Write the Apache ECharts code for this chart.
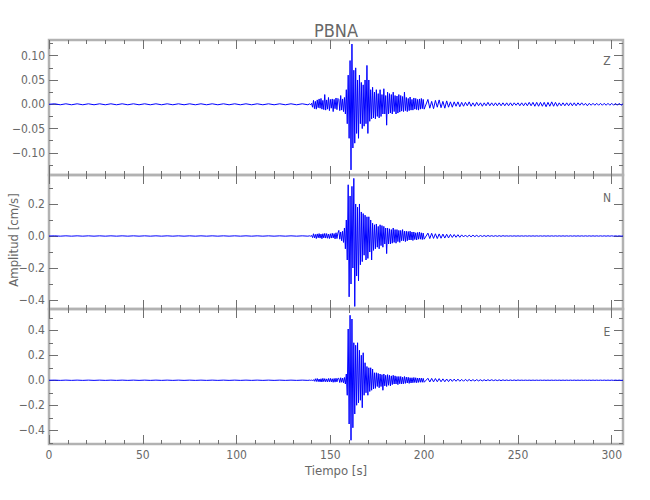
<!DOCTYPE html>
<html><head><meta charset="utf-8">
<script src="https://cdn.jsdelivr.net/npm/echarts@6/dist/echarts.min.js"></script>
<style>html,body{margin:0;padding:0;background:#fff}#chart{width:650px;height:500px}</style>
</head><body><div id="chart"></div>
<script>
// ---- text ----
const chartTitle = 'PBNA';
const xTitle = 'Tiempo [s]';
const yTitle = 'Amplitud [cm/s]';
const componentNames = ['Z', 'N', 'E'];

// ---- axes ----
const timeRange = [0, 306];
const xMajorTicks = [0, 50, 100, 150, 200, 250, 300];
const xMinorTicks = [10, 20, 30, 40, 60, 70, 80, 90, 110, 120, 130, 140, 160, 170, 180, 190, 210, 220, 230, 240, 260, 270, 280, 290];
const zRange = [-0.1455, 0.1323];
const zMajorTicks = [-0.10, -0.05, 0, 0.05, 0.10];
const zMinorTicks = [-0.125, -0.075, -0.025, 0.025, 0.075, 0.125];
const nRange = [-0.456, 0.381];
const nMajorTicks = [-0.4, -0.2, 0, 0.2];
const nMinorTicks = [-0.3, -0.1, 0.1, 0.3];
const eRange = [-0.51, 0.57];
const eMajorTicks = [-0.4, -0.2, 0, 0.2, 0.4];
const eMinorTicks = [-0.5, -0.3, -0.1, 0.1, 0.3, 0.5];

// ---- time spans of the sample segments [start, end] (s) ----
const segmentSpans = [[0, 138], [139, 154], [154.5, 200], [202, 306]];

// ---- Z component (cm/s) ----
const zQuiet = [0.000,0.001,-0.001,0.001,-0.001,0.001,-0.001,0.001,-0.001,0.001,-0.001,0.001,-0.001,0.001,-0.001,0.001,-0.001,0.001,-0.001,0.001,-0.001,0.001,-0.001,0.001,-0.001,0.001,-0.001,0.001,-0.001,0.001,-0.001,0.001,-0.001,0.001,-0.001,0.001,-0.001,0.001,-0.001,0.001,-0.001,0.001,-0.001,0.001,-0.001,0.001,-0.001];
const zOnset = [0.001,-0.001,0.002,-0.006,0.008,-0.009,0.006,-0.010,0.009,-0.007,
  0.011,-0.008,0.012,-0.010,0.008,-0.011,0.020,-0.012,0.009,-0.010,
  0.014,-0.013,0.010,-0.008,0.011,-0.015,0.010,-0.009,0.013,-0.011,0.012];
const zMain = [0.010,-0.013,0.018,-0.012,0.011,-0.015,0.014,-0.020,0.030,-0.040,
  0.060,-0.070,0.090,-0.135,0.124,-0.090,0.070,-0.080,0.075,-0.060,
  0.050,-0.070,0.060,-0.040,0.045,-0.050,0.040,-0.045,0.050,-0.040,
  0.080,-0.060,0.050,-0.035,0.030,-0.030,0.035,-0.028,0.025,-0.030,
  0.030,-0.025,0.022,-0.028,0.030,-0.025,0.020,-0.020,0.032,-0.020,
  0.018,-0.043,0.025,-0.020,0.022,-0.018,0.020,-0.020,0.025,-0.015,
  0.018,-0.020,0.017,-0.018,0.020,-0.016,0.018,-0.014,0.016,-0.015,
  0.025,-0.013,0.014,-0.015,0.012,-0.013,0.015,-0.012,0.010,-0.012,
  0.013,-0.010,0.012,-0.011,0.010,-0.012,0.011,-0.010,0.012,-0.009,
  0.010,-0.010];
const zCoda = [0.010,-0.008,0.006,-0.009,0.008,-0.006,0.009,-0.007,0.006,-0.008,
  0.007,-0.006,0.005,-0.006,0.005,-0.004,0.005,-0.005,0.004,-0.004,
  0.004,-0.003,0.005,-0.004,0.003,-0.004,0.004,-0.003,0.003,-0.004,
  0.003,-0.003,0.004,-0.003,0.003,-0.003,0.003,-0.003,0.003,-0.003,
  0.003,-0.003,0.003,-0.003,0.003,-0.003,0.003,-0.002,0.003,-0.003,
  0.003,-0.003,0.003,-0.003,0.004,-0.003,0.004,-0.004,0.004,-0.004,
  0.004,-0.004,0.004,-0.005,0.004,-0.004,0.005,-0.004,0.004,-0.004,
  0.003,-0.003,0.003,-0.003,0.003,-0.003,0.003,-0.003,0.003,-0.003,
  0.003,-0.002,0.003,-0.002,0.002,-0.003,0.002,-0.002,0.002,-0.002,
  0.002,-0.002,0.002,-0.002,0.002,-0.002,0.002,-0.002,0.002,-0.002,
  0.002,-0.002,0.002,-0.002,0.001];

// ---- N component (cm/s) ----
const nQuiet = [0.000,0.001,-0.001,0.001,-0.001,0.001,-0.001,0.001,-0.001,0.001,-0.001,0.001,-0.001,0.001,-0.001,0.001,-0.001,0.001,-0.001,0.001,-0.001,0.001,-0.001,0.001,-0.001,0.001,-0.001,0.001,-0.001,0.001,-0.001,0.001,-0.001,0.001,-0.001,0.001,-0.001,0.001,-0.001,0.001,-0.001,0.001,-0.001,0.001,-0.001,0.001,-0.001];
const nOnset = [0.001,-0.001,0.003,-0.010,0.014,-0.012,0.010,-0.016,0.013,-0.011,
  0.015,-0.013,0.012,-0.017,0.014,-0.012,0.016,-0.013,0.015,-0.014,
  0.012,-0.016,0.014,-0.013,0.017,-0.012,0.015,-0.018,0.020,-0.016,0.018];
const nMain = [0.035,-0.020,0.025,-0.030,0.030,-0.040,0.050,-0.080,0.100,-0.150,
  0.320,-0.380,0.250,-0.300,0.310,-0.200,0.360,-0.440,0.200,-0.250,
  0.180,-0.280,0.200,-0.180,0.150,-0.160,0.140,-0.120,0.130,-0.150,
  0.120,-0.140,0.120,-0.100,0.100,-0.150,0.080,-0.090,0.070,-0.080,
  0.075,-0.070,0.060,-0.080,0.070,-0.060,0.065,-0.070,0.060,-0.050,
  0.050,-0.110,0.050,-0.050,0.045,-0.050,0.040,-0.045,0.050,-0.040,
  0.040,-0.045,0.040,-0.035,0.035,-0.040,0.035,-0.030,0.040,-0.030,
  0.030,-0.035,0.030,-0.030,0.028,-0.025,0.030,-0.025,0.025,-0.028,
  0.025,-0.022,0.020,-0.025,0.022,-0.020,0.025,-0.020,0.020,-0.022,
  0.018,-0.020];
const nCoda = [0.018,-0.016,0.017,-0.015,0.014,-0.016,0.013,-0.014,0.012,-0.013,
  0.011,-0.012,0.010,-0.009,0.009,-0.008,0.008,-0.008,0.007,-0.006,
  0.006,-0.006,0.005,-0.005,0.005,-0.004,0.004,-0.004,0.003,-0.003,
  0.003,-0.003,0.003,-0.002,0.002,-0.002,0.002,-0.002,0.002,-0.002,
  0.002,-0.001,0.001,-0.001,0.001,-0.001,0.001,-0.001,0.001,-0.001,
  0.001,-0.001,0.001,-0.001,0.001,-0.001,0.001,-0.001,0.001,-0.001,
  0.001,-0.001,0.001,-0.001,0.001,-0.001,0.001,-0.001,0.001,-0.001,
  0.001,-0.001,0.001,-0.001,0.001,-0.001,0.001,-0.001,0.001,-0.001,
  0.001,-0.001,0.001,-0.001,0.001,-0.001,0.001,-0.001,0.001,-0.001,
  0.001,-0.001,0.001,-0.001,0.001,-0.001,0.001,-0.001,0.001,-0.001,
  0.001,-0.001,0.001,-0.001,0.000];

// ---- E component (cm/s) ----
const eQuiet = [0.000,0.001,-0.001,0.001,-0.001,0.001,-0.001,0.001,-0.001,0.001,-0.001,0.001,-0.001,0.001,-0.001,0.001,-0.001,0.001,-0.001,0.001,-0.001,0.001,-0.001,0.001,-0.001,0.001,-0.001,0.001,-0.001,0.001,-0.001,0.001,-0.001,0.001,-0.001,0.001,-0.001,0.001,-0.001,0.001,-0.001,0.001,-0.001,0.001,-0.001,0.001,-0.001];
const eOnset = [0.001,-0.001,0.001,-0.002,0.004,-0.008,0.012,-0.010,0.014,-0.011,
  0.010,-0.013,0.012,-0.014,0.015,-0.011,0.013,-0.012,0.011,-0.013,
  0.014,-0.012,0.015,-0.013,0.012,-0.016,0.014,-0.015,0.016,-0.013,0.015];
const eMain = [0.015,-0.018,0.020,-0.016,0.018,-0.020,0.022,-0.030,0.050,-0.120,
  0.410,-0.350,0.520,-0.480,0.490,-0.380,0.300,-0.270,0.280,-0.200,
  0.300,-0.180,0.240,-0.160,0.200,-0.220,0.220,-0.120,0.140,-0.100,
  0.110,-0.120,0.100,-0.090,0.100,-0.080,0.090,-0.070,0.060,-0.065,
  0.060,-0.050,0.055,-0.060,0.050,-0.050,0.045,-0.080,0.050,-0.045,
  0.040,-0.050,0.045,-0.040,0.040,-0.045,0.035,-0.035,0.040,-0.030,
  0.035,-0.030,0.030,-0.035,0.030,-0.028,0.030,-0.030,0.025,-0.028,
  0.030,-0.025,0.025,-0.022,0.024,-0.025,0.020,-0.022,0.020,-0.020,
  0.022,-0.018,0.020,-0.020,0.018,-0.017,0.018,-0.016,0.017,-0.016,
  0.015,-0.016];
const eCoda = [0.016,-0.014,0.015,-0.013,0.014,-0.012,0.013,-0.012,0.011,-0.012,
  0.010,-0.011,0.010,-0.009,0.009,-0.008,0.009,-0.008,0.007,-0.008,
  0.007,-0.006,0.006,-0.006,0.005,-0.006,0.005,-0.005,0.004,-0.005,
  0.004,-0.004,0.004,-0.003,0.004,-0.003,0.003,-0.003,0.003,-0.003,
  0.003,-0.002,0.002,-0.002,0.002,-0.002,0.002,-0.002,0.002,-0.001,
  0.001,-0.001,0.001,-0.001,0.001,-0.001,0.001,-0.001,0.001,-0.001,
  0.001,-0.001,0.001,-0.001,0.001,-0.001,0.001,-0.001,0.001,-0.001,
  0.001,-0.001,0.001,-0.001,0.001,-0.001,0.001,-0.001,0.001,-0.001,
  0.001,-0.001,0.001,-0.001,0.001,-0.001,0.001,-0.001,0.001,-0.001,
  0.001,-0.001,0.001,-0.001,0.001,-0.001,0.001,-0.001,0.001,-0.001,
  0.001,-0.001,0.001,-0.001,0.000];

// ---- build [time, value] pairs: samples evenly spread across each segment span ----
function tracePairs(segments) {
  const out = [];
  segments.forEach((vals, s) => {
    const [t0, t1] = segmentSpans[s];
    const n = vals.length;
    const dt = n > 1 ? (t1 - t0) / (n - 1) : 0;
    vals.forEach((v, j) => out.push([t0 + j * dt, v]));
  });
  return out;
}
const traces = [
  tracePairs([zQuiet, zOnset, zMain, zCoda]),
  tracePairs([nQuiet, nOnset, nMain, nCoda]),
  tracePairs([eQuiet, eOnset, eMain, eCoda])
];
const yRanges = [zRange, nRange, eRange];
const yMajor = [zMajorTicks, nMajorTicks, eMajorTicks];
const yMinor = [zMinorTicks, nMinorTicks, eMinorTicks];
const yDecimals = [2, 1, 1];

// ---- layout / style ----
const FONT = '"Liberation Sans Narrow", "DejaVu Sans Condensed", "Liberation Sans", sans-serif';
const TEXT = '#686868';
const FRAME = '#b2b2b2';
const TICK = '#707070';
const grids = [
  { left: 49, right: 27, top: 40, height: 135 },
  { left: 49, right: 27, top: 175, height: 134 },
  { left: 49, right: 27, top: 309, height: 135 }
];

function fmtY(dec) {
  return v => (v < 0 ? '\u2212' : '') + Math.abs(v).toFixed(dec);
}

const xAxes = [], yAxes = [], series = [];
grids.forEach((g, i) => {
  const base = { type: 'value', gridIndex: i, axisLine: { show: false, onZero: false }, splitLine: { show: false } };
  const mk = (pos, vals, len, range, label) => Object.assign({}, base, {
    position: pos, min: range[0], max: range[1],
    axisTick: { show: true, inside: true, length: len, customValues: vals, lineStyle: { color: TICK, width: 1 } },
    axisLabel: label ? Object.assign({ show: true, customValues: vals }, label) : { show: false }
  });
  const xLabel = i === 2 ? { margin: 5, color: TEXT, fontFamily: FONT, fontSize: 12, formatter: v => String(Math.round(v)) } : null;
  xAxes.push(mk('bottom', xMajorTicks, 9, timeRange, xLabel));
  xAxes.push(mk('bottom', xMinorTicks, 4, timeRange, null));
  xAxes.push(mk('top', xMajorTicks, 9, timeRange, null));
  xAxes.push(mk('top', xMinorTicks, 4, timeRange, null));
  const yLabel = { margin: 4, color: TEXT, fontFamily: FONT, fontSize: 12, formatter: fmtY(yDecimals[i]) };
  yAxes.push(mk('left', yMajor[i], 9, yRanges[i], yLabel));
  yAxes.push(mk('left', yMinor[i], 4, yRanges[i], null));
  yAxes.push(mk('right', yMajor[i], 9, yRanges[i], null));
  yAxes.push(mk('right', yMinor[i], 4, yRanges[i], null));
  series.push({
    type: 'line', name: componentNames[i], xAxisIndex: 4 * i, yAxisIndex: 4 * i,
    data: traces[i], showSymbol: false, symbol: 'none', sampling: 'none',
    lineStyle: { color: '#0000ff', width: 1 }, z: 3, animation: false
  });
});

const labelYs = [61, 198, 332];
const graphics = [
  { type: 'text', x: 336, y: 30, style: { text: chartTitle, font: '18px ' + FONT, fill: TEXT, textAlign: 'center', textVerticalAlign: 'middle' } },
  { type: 'text', x: 336, y: 470, style: { text: xTitle, font: '13px ' + FONT, fill: TEXT, textAlign: 'center', textVerticalAlign: 'middle' } },
  { type: 'text', x: 13, y: 240, rotation: Math.PI / 2, style: { text: yTitle, font: '13px ' + FONT, fill: TEXT, textAlign: 'center', textVerticalAlign: 'middle' } }
];
componentNames.forEach((n, i) => graphics.push({
  type: 'text', x: 607, y: labelYs[i], style: { text: n, font: '12px ' + FONT, fill: TEXT, textAlign: 'center', textVerticalAlign: 'middle' }
}));

const chart = echarts.init(document.getElementById('chart'), null, { renderer: 'svg' });
chart.setOption({
  animation: false,
  backgroundColor: '#ffffff',
  grid: grids.map(g => Object.assign({ show: true, borderColor: FRAME, borderWidth: 2.5, backgroundColor: 'transparent', containLabel: false }, g)),
  xAxis: xAxes,
  yAxis: yAxes,
  series: series,
  graphic: graphics
});
</script>
</body></html>
